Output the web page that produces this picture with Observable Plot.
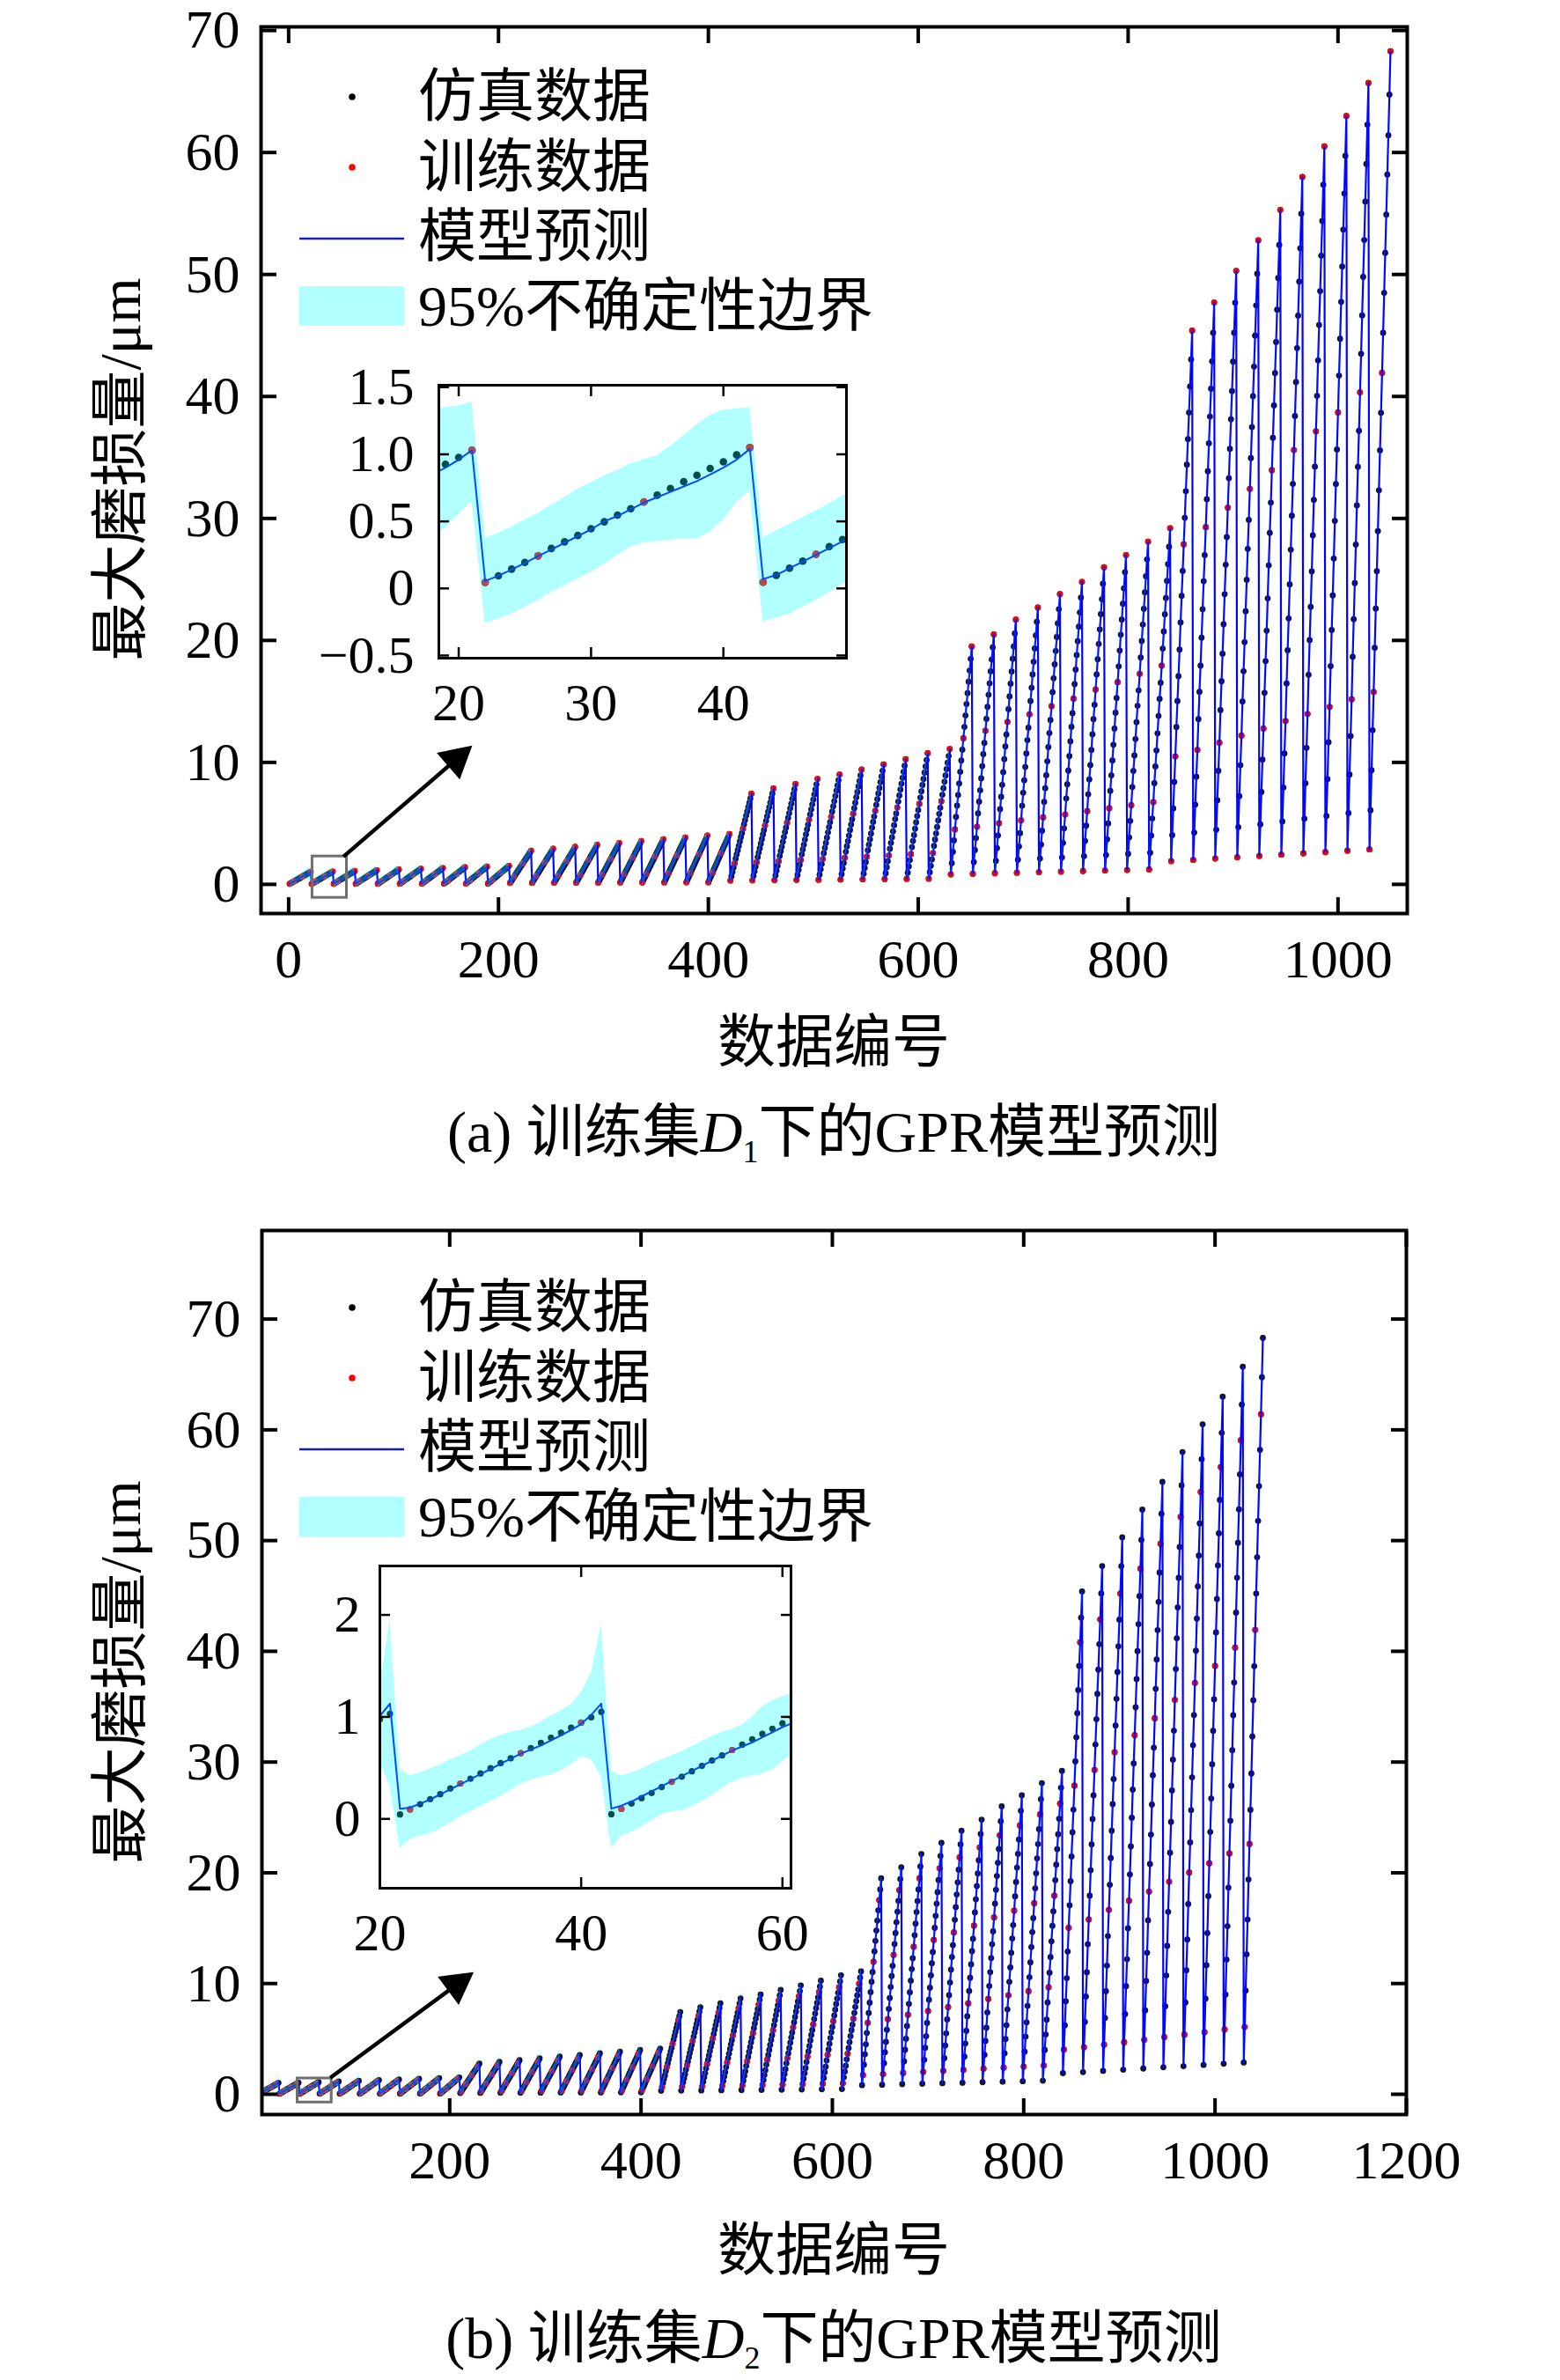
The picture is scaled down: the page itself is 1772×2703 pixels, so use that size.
<!DOCTYPE html>
<html><head><meta charset="utf-8">
<script src="https://cdn.jsdelivr.net/npm/d3@7"></script>
<script src="https://cdn.jsdelivr.net/npm/@observablehq/plot@0.6"></script>
<style>
body{margin:0;background:#fff;}
#page{position:relative;width:1772px;height:2703px;background:#fff;overflow:hidden;font-family:'Liberation Serif','Noto Sans CJK SC',serif;color:#000;}
.t{position:absolute;white-space:nowrap;font-size:66px;line-height:66px;}
svg.abs{position:absolute;}
</style></head><body><div id="page"></div>
<script>
// ---------- data ----------
// peak wear of each of the 50 simulation runs (21 samples each)
const peaks = [1.03,1.05,1.10,1.16,1.22,1.28,1.34,1.40,1.46,1.52,
  2.76,2.92,3.08,3.24,3.40,3.55,3.70,3.85,4.00,4.13,
  7.43,7.86,8.22,8.65,9.01,9.42,9.83,10.26,10.75,11.10,
  19.5,20.5,21.7,22.7,23.8,24.8,26.0,27.0,28.1,29.2,
  45.4,47.7,50.3,52.8,55.3,58.0,60.5,63.0,65.7,68.3];
// fraction of the peak reached at each of the 21 samples of a run
const rampProfile = [0.042,0.089,0.137,0.185,0.231,0.284,0.331,0.376,0.424,0.473,0.521,0.566,0.614,0.662,0.710,0.758,0.804,0.852,0.899,0.948,1.0];
// training sample positions within each run
const trainPosD1 = [1,5,13,21];
const trainPosD2 = [2,7,13,19];
// 95% band offsets (upper / lower) per sample position
const bandUpA = [0.325,0.315,0.32,0.32,0.32,0.33,0.34,0.35,0.35,0.34,0.34,0.34,0.32,0.31,0.34,0.38,0.42,0.44,0.43,0.38,0.31];
const bandLoA = [0.315,0.325,0.33,0.33,0.33,0.32,0.32,0.32,0.32,0.32,0.29,0.28,0.30,0.33,0.36,0.39,0.43,0.43,0.39,0.32,0.31];
const bandUpB = [0.39,0.31,0.30,0.30,0.29,0.29,0.28,0.28,0.29,0.29,0.28,0.26,0.23,0.22,0.23,0.24,0.24,0.25,0.31,0.41,0.78];
const bandLoB = [0.39,0.31,0.32,0.33,0.34,0.33,0.32,0.32,0.32,0.32,0.32,0.31,0.30,0.30,0.31,0.34,0.35,0.34,0.32,0.44,0.72];
// inset (a): prediction and band, data index 18..50
const insetStartA = 18;
const predA = [0.85,0.90,0.96,1.03, 0.055,0.095,0.14,0.19,0.24,0.29,0.34,0.39,0.44,0.50,0.54,0.59,0.64,0.68,0.72,0.76,0.80,0.85,0.90,0.96,1.04, 0.07,0.10,0.15,0.20,0.25,0.30,0.35,0.40];
const hiA = [1.34,1.35,1.36,1.39, 0.38,0.41,0.46,0.51,0.56,0.62,0.68,0.74,0.79,0.84,0.88,0.93,0.96,0.99,1.06,1.14,1.22,1.29,1.33,1.34,1.35, 0.38,0.43,0.48,0.53,0.58,0.63,0.69,0.74];
const loA = [0.38,0.45,0.55,0.65, -0.26,-0.23,-0.19,-0.14,-0.09,-0.03,0.02,0.07,0.12,0.18,0.25,0.31,0.34,0.35,0.36,0.37,0.37,0.42,0.51,0.64,0.73, -0.25,-0.22,-0.19,-0.14,-0.09,-0.03,0.03,0.08];
// inset (b): prediction and band, data index 19..62
const insetStartB = 19;
const predB = [0.94,1.01,1.13, 0.10,0.11,0.15,0.19,0.24,0.29,0.34,0.39,0.44,0.49,0.54,0.59,0.64,0.68,0.72,0.77,0.82,0.87,0.93,1.02,1.13, 0.10,0.13,0.17,0.22,0.27,0.32,0.37,0.42,0.47,0.52,0.57,0.62,0.67,0.71,0.75,0.80,0.85,0.90,0.94,0.99];
const hiB = [1.20,1.29,1.94, 0.49,0.42,0.45,0.49,0.53,0.58,0.62,0.67,0.73,0.78,0.82,0.85,0.87,0.90,0.95,1.01,1.06,1.12,1.24,1.43,1.91, 0.47,0.42,0.45,0.49,0.54,0.58,0.62,0.66,0.71,0.76,0.81,0.85,0.88,0.92,1.00,1.10,1.16,1.20,1.23,1.26];
const loB = [0.70,0.55,0.32, -0.29,-0.20,-0.17,-0.14,-0.10,-0.04,0.02,0.07,0.12,0.17,0.22,0.28,0.34,0.38,0.41,0.43,0.47,0.53,0.61,0.58,0.41, -0.29,-0.17,-0.13,-0.08,-0.02,0.04,0.07,0.08,0.12,0.17,0.23,0.30,0.36,0.40,0.42,0.44,0.48,0.56,0.64,0.70];
// ticks
const xTicksA = [0,200,400,600,800,1000];
const yTicksMain = [0,10,20,30,40,50,60,70];
const xTicksB = [200,400,600,800,1000,1200];
const xTicksInsetA = [20,30,40];
const yTicksInsetA = [-0.5,0,0.5,1.0,1.5];
const xTicksInsetB = [20,40,60];
const yTicksInsetB = [0,1,2];
// annotations (data coordinates)
const boxA = {x1:22.7,x2:55.5,y1:-1.1,y2:2.29};
const arrowA = {x1:52.7,y1:2.24,x2:175.4,y2:11.35};
const boxB = {x1:41,x2:76.6,y1:-0.74,y2:1.43};
const arrowB = {x1:75.7,y1:1.45,x2:225.6,y2:11.0};
// text
const legendLabels = ["仿真数据","训练数据","模型预测","95%不确定性边界"];
const xLabel = "数据编号";
const yLabel = "最大磨损量/μm";

// ---------- build series ----------
function buildSeries(up, lo, start, iPred, iHi, iLo) {
  const out = [];
  peaks.forEach((pk, c) => rampProfile.forEach((f, p) => {
    const x = c * 21 + p + 1;
    const sim = pk * f;
    let pred = sim, hi = sim + up[p], l = sim - lo[p];
    const k = x - start;
    if (k >= 0 && k < iPred.length) { pred = iPred[k]; hi = iHi[k]; l = iLo[k]; }
    out.push({x, pos: p + 1, sim, pred, hi, lo: l});
  }));
  return out;
}
const seriesA = buildSeries(bandUpA, bandLoA, insetStartA, predA, hiA, loA);
const seriesB = buildSeries(bandUpB, bandLoB, insetStartB, predB, hiB, loB);
const trainA = seriesA.filter(d => trainPosD1.includes(d.pos));
const trainB = seriesB.filter(d => trainPosD2.includes(d.pos));

const FONT = "'Liberation Serif', 'Noto Sans CJK SC', serif";
const page = document.getElementById("page");

function arrowMark(a) {
  return (index, scales) => {
    const x1 = scales.x(a.x1), y1 = scales.y(a.y1), x2 = scales.x(a.x2), y2 = scales.y(a.y2);
    const ang = Math.atan2(y2 - y1, x2 - x1);
    const L = 36, W = 40;
    const bx = x2 - L * Math.cos(ang), by = y2 - L * Math.sin(ang);
    const px = -Math.sin(ang) * W / 2, py = Math.cos(ang) * W / 2;
    const g = d3.create("svg:g");
    g.append("line").attr("x1", x1).attr("y1", y1).attr("x2", bx + 2 * Math.cos(ang)).attr("y2", by + 2 * Math.sin(ang))
      .attr("stroke", "black").attr("stroke-width", 4.5);
    g.append("path").attr("d", `M${x2},${y2}L${bx + px},${by + py}L${bx - px},${by - py}Z`).attr("fill", "black");
    return g.node();
  };
}

function axes(xt, yt, o) {
  return [
    Plot.axisX(xt, {anchor: "bottom", tickSize: -o.ts, strokeWidth: o.tw, fill: "none", label: null}),
    Plot.axisX(xt, {anchor: "top", tickSize: -o.ts, strokeWidth: o.tw, fill: "none", label: null}),
    Plot.axisY(yt, {anchor: "left", tickSize: -o.ts, strokeWidth: o.tw, fill: "none", label: null}),
    Plot.axisY(yt, {anchor: "right", tickSize: -o.ts, strokeWidth: o.tw, fill: "none", label: null}),
    Plot.axisX(xt, {anchor: "bottom", tickSize: 0, tickPadding: o.xp, fontSize: o.fs, label: null, tickFormat: o.xf}),
    Plot.axisY(yt, {anchor: "left", tickSize: 0, tickPadding: o.yp, fontSize: o.fs, label: null, tickFormat: o.yf})
  ];
}

function mainPlot(cfg) {
  return Plot.plot({
    width: 1772, height: 1250,
    marginLeft: cfg.ml, marginRight: cfg.mr, marginTop: cfg.mt, marginBottom: cfg.mb,
    x: {domain: cfg.xd, label: null}, y: {domain: cfg.yd, label: null},
    style: {fontFamily: FONT, fontSize: "62px", background: "transparent", overflow: "visible", color: "black"},
    marks: [
      Plot.dot(cfg.series, {x: "x", y: "sim", r: 3.4, fill: "#111122", clip: true}),
      Plot.dot(cfg.train, {x: "x", y: "sim", r: 3.4, fill: "red", clip: true}),
      Plot.line(cfg.series, {x: "x", y: "pred", stroke: "blue", strokeWidth: 2.2, clip: true}),
      Plot.areaY(cfg.series, {x: "x", y1: "lo", y2: "hi", fill: "cyan", fillOpacity: 0.3, clip: true}),
      Plot.rect([cfg.box], {x1: "x1", x2: "x2", y1: "y1", y2: "y2", fill: "none", stroke: "#6e6e6e", strokeWidth: 3}),
      arrowMark(cfg.arrow),
      Plot.frame({stroke: "black", strokeWidth: 4}),
      ...axes(cfg.xt, yTicksMain, {ts: 18, tw: 4, xp: 28, yp: 24, fs: 62, xf: d => String(d), yf: d => String(d)})
    ]
  });
}

function insetPlot(cfg) {
  return Plot.plot({
    width: cfg.w, height: cfg.h,
    marginLeft: cfg.ml, marginRight: cfg.mr, marginTop: cfg.mt, marginBottom: cfg.mb,
    x: {domain: cfg.xd, label: null}, y: {domain: cfg.yd, label: null},
    style: {fontFamily: FONT, fontSize: "60px", background: "transparent", overflow: "visible", color: "black"},
    marks: [
      Plot.dot(cfg.series, {x: "x", y: "sim", r: cfg.r, fill: "black", clip: true}),
      Plot.dot(cfg.train, {x: "x", y: "sim", r: cfg.r, fill: "red", clip: true}),
      Plot.line(cfg.series, {x: "x", y: "pred", stroke: "blue", strokeWidth: 2, clip: true}),
      Plot.areaY(cfg.series, {x: "x", y1: "lo", y2: "hi", fill: "cyan", fillOpacity: 0.3, clip: true}),
      Plot.frame({stroke: "black", strokeWidth: 3}),
      ...axes(cfg.xt, cfg.yt, {ts: 12, tw: 2.5, xp: 28, yp: cfg.yp, fs: 60, xf: d => String(d), yf: cfg.yf})
    ]
  });
}

function put(el, left, top) { el.classList.add("abs"); el.style.left = left + "px"; el.style.top = top + "px"; page.appendChild(el); }
function text(html, x, y, opts = {}) {
  const d = document.createElement("div");
  d.className = "t"; d.innerHTML = html;
  d.style.left = x + "px"; d.style.top = y + "px";
  d.style.transform = opts.transform || "translate(0,-50%)";
  if (opts.size) { d.style.fontSize = opts.size + "px"; d.style.lineHeight = opts.size + "px"; }
  page.appendChild(d);
  return d;
}
function legend(top) {
  const s = d3.create("svg").attr("width", 140).attr("height", 300)
    .style("position", "absolute").style("left", "330px").style("top", (top - 40) + "px");
  const ys = [0, 80, 159, 238];
  s.append("circle").attr("cx", 70).attr("cy", 40 + ys[0]).attr("r", 3.8).attr("fill", "black");
  s.append("circle").attr("cx", 70).attr("cy", 40 + ys[1]).attr("r", 3.8).attr("fill", "red");
  s.append("line").attr("x1", 10).attr("x2", 129).attr("y1", 40 + ys[2] + 2).attr("y2", 40 + ys[2] + 2).attr("stroke", "#1a1ab8").attr("stroke-width", 2.5);
  s.append("rect").attr("x", 10).attr("width", 119).attr("y", 40 + ys[3] - 23).attr("height", 49).attr("fill", "#b2ffff");
  page.appendChild(s.node());
  legendLabels.forEach((l, i) => text(l, 475, top + ys[i]));
}

// ---------- panel (a) ----------
const mainA = mainPlot({series: seriesA, train: trainA, ml: 296, mr: 174, mt: 30, mb: 213,
  xd: [-26.3, 1066], yd: [-2.39, 70.3], xt: xTicksA, box: boxA, arrow: arrowA});
put(mainA, 0, 0);
const inA = insetPlot({series: seriesA, train: trainA, w: 680, h: 420, ml: 168, mr: 49, mt: 37, mb: 73,
  xd: [18.5, 49.3], yd: [-0.52, 1.515], xt: xTicksInsetA, yt: yTicksInsetA, r: 4.3, yp: 28,
  yf: d => d < 0 ? "−" + Math.abs(d) : d === 0 ? "0" : d.toFixed(1)});
put(inA, 330, 400);
legend(110);
text(xLabel, 947, 1184, {transform: "translate(-50%,-50%)"});
text(yLabel, 137, 533, {transform: "translate(-50%,-50%) rotate(-90deg)"});
text("(a) 训练集<i style='font-family:Liberation Serif'>D</i><sub style='font-size:36px;line-height:0;vertical-align:-12px'>1</sub>下的GPR模型预测", 947, 1286, {transform: "translate(-50%,-50%)"});

// ---------- panel (b) ----------
const mainB = mainPlot({series: seriesB, train: trainB, ml: 297, mr: 175, mt: 57, mb: 189,
  xd: [3.7, 1200], yd: [-1.83, 78.0], xt: xTicksB, box: boxB, arrow: arrowB});
put(mainB, 0, 1340);
const inB = insetPlot({series: seriesB, train: trainB, w: 620, h: 470, ml: 101, mr: 52, mt: 38, mb: 66,
  xd: [20, 60.85], yd: [-0.68, 2.48], xt: xTicksInsetB, yt: yTicksInsetB, r: 3.6, yp: 22,
  yf: d => String(d)});
put(inB, 330, 1740);
legend(1485);
text(xLabel, 947, 2556, {transform: "translate(-50%,-50%)"});
text(yLabel, 137, 1899, {transform: "translate(-50%,-50%) rotate(-90deg)"});
text("(b) 训练集<i style='font-family:Liberation Serif'>D</i><sub style='font-size:36px;line-height:0;vertical-align:-12px'>2</sub>下的GPR模型预测", 947, 2656, {transform: "translate(-50%,-50%)"});
</script></body></html>
